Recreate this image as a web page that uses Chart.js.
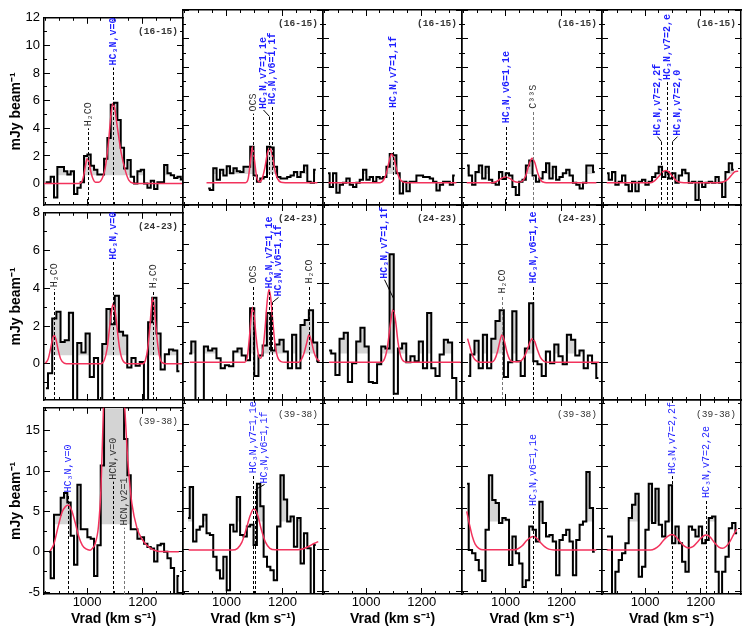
<!DOCTYPE html>
<html>
<head>
<meta charset="utf-8">
<script src="https://cdn.jsdelivr.net/npm/chart.js@4.4.1/dist/chart.umd.min.js"></script>
<style>
  body { margin: 0; background: #fff; }
  #fig { position: relative; width: 747px; height: 634px; overflow: hidden; }
  #fig canvas { position: absolute; }
</style>
</head>
<body>
<div id="fig"></div>
<script>
// channel velocities (km/s)
const velA = [851, 863, 875, 887, 899, 911, 923, 935, 947, 959, 971, 983, 995, 1007, 1019, 1031, 1043, 1055, 1067, 1079, 1091,
  1103, 1115, 1127, 1139, 1151, 1163, 1175, 1187, 1199, 1211, 1223, 1235, 1247, 1259, 1271, 1283, 1295, 1307, 1319, 1331, 1343]
const velB = [852, 867, 882, 897, 912, 927, 942, 957, 972, 987, 1002, 1017, 1032, 1047, 1062, 1077, 1092, 1107, 1122, 1137,
  1152, 1167, 1182, 1197, 1212, 1227, 1242, 1257, 1272, 1287, 1302, 1317, 1332]

// axis ticks
const xMajor = [1000, 1200]
const xMinor = [850, 900, 950, 1000, 1050, 1100, 1150, 1200, 1250, 1300]
const yMajor = [[0, 2, 4, 6, 8, 10, 12], [0, 2, 4, 6, 8], [-5, 0, 5, 10, 15]]
const yMinor = [[-1, 0, 1, 2, 3, 4, 5, 6, 7, 8, 9, 10, 11, 12], [-1, 0, 1, 2, 3, 4, 5, 6, 7, 8], [-5, -2.5, 0, 2.5, 5, 7.5, 10, 12.5, 15, 17.5]]
const yLow = [-1.55, -1.92, -5.24]
const yHigh = [12, 8, 17.86]
const fillLevel = [0.6, 0.45, 3.4]

// HC3N (16-15) spectra, mJy/beam on velA
const s16_1 = [0.1, 0.1, 0.5, -1.0, 1.2, 1.2, 0.9, 0.65, 0.9, -0.75, -0.3, 0.1, 2.0, 2.1, 1.3, 1.0, 0.65, 0.65, 1.8, 3.3, 5.7,
  5.85, 4.6, 2.6, 1.1, 1.7, 0.5, 0.0, 0.9, 1.0, 0.0, -0.3, 0.2, -0.4, 0.1, 0.1, 1.35, 0.75, 0.6, 0.4, 0.5, 0.3]
const s16_2 = [null, null, null, null, null, null, null, -0.4, -0.5, 1.0, 0.2, 0.9, 0.5, 1.15, 0.65, 1.0, 0.8, 0.75, 1.1, 1.1, 2.5,
  0.5, 0.07, 0.3, 0.4, 2.5, 2.45, 1.1, 0.4, 0.3, 0.3, 0.4, 0.5, 0.75, 0.4, 0.75, 1.2, 0.07, 0.0, 0.9, null, null]
const s16_3 = [null, 0.65, -0.3, 0.65, -0.7, -0.15, 0.0, 0.3, -0.15, -0.3, 0.0, 0.2, 0.9, 0.2, 0.4, 0.07, 0.4, 0.3, 0.4, 1.1, 2.0,
  1.9, 0.65, -0.75, 0.07, -0.6, 0.07, 0.07, 0.5, 0.5, 0.4, 0.4, 0.3, 0.07, -0.55, -0.15, 0.07, 0.07, -0.15, 0.5, null, null]
const s16_4 = [null, 1.2, 0.5, -0.15, 0.75, 1.2, 0.3, 1.1, 0.2, 0.0, -0.15, 0.75, 0.25, 0.65, 0.5, -0.3, -0.85, 0.07, 0.2, 1.2, 1.55,
  0.5, 0.07, 0.3, 0.75, 1.35, 0.3, 1.1, 0.2, 0.4, 0.65, 0.9, 0.5, 0.0, -0.15, -0.4, 0.0, 1.2, 1.2, 0.75, null, null]
const s16_5 = [null, 0.65, 0.2, 0.75, -0.15, 0.07, 0.5, -0.15, -0.6, 0.07, -0.6, 0.07, 0.2, -0.15, 0.07, 0.4, 0.65, 1.1, 0.4, 0.75, 0.3,
  0.65, 0.0, 0.5, 0.9, 0.65, 0.0, 0.07, -1.2, 0.07, -0.3, 0.0, 0.07, 0.0, 0.4, 0.0, -1.0, 0.75, 1.35, 0.9, null, null]

// HC3N (24-23) spectra on velB
const s24_1 = [-1.3, -0.5, 2.4, 2.75, 1.15, 1.25, 2.7, -2.2, 1.1, 0.6, 1.6, -0.7, 0.3, -2.2, 1.05, 2.9, 2.1, 3.6, 1.7, 1.5, -0.2,
  0.3, -0.1, 0.1, -2.2, 2.2, 3.5, 1.6, -0.3, 0.5, 0.75, 0.7, -0.4]
const s24_2 = [null, 0.45, 1.05, -2.2, -2.2, 0.8, 0.6, 0.7, 0.2, -0.3, -0.15, -0.2, 0.55, 0.7, 0.35, 0.1, 2.75, -0.7, 0.35, 0.85, 2.5,
  0.6, 0.9, 1.15, 0.55, -0.3, 1.4, -0.3, 1.9, 2.15, 2.65, 1.0, 0.05]
const s24_3 = [null, 0.6, 0.45, -0.65, 1.2, 1.5, -1.0, -0.05, 1.05, 1.75, 0.8, -1.0, -1.05, -0.1, 0.8, 0.7, 5.5, -1.6, 0.7, 0.95, 0.0,
  0.3, 0.05, 1.05, -0.3, 2.5, -0.3, -0.7, 0.4, 1.15, 1.0, -0.8, -2.2]
const s24_4 = [null, -0.7, 0.4, 1.1, -0.3, 1.4, -0.3, 1.2, 2.1, 2.65, -0.75, 0.0, 2.6, 0.05, -0.7, 0.7, 3.0, 0.05, -0.1, -0.7, 0.55,
  -0.05, 0.9, 0.3, -0.1, 1.4, 1.15, 0.35, 0.6, -0.3, 0.35, -0.05, -0.8]

// HC3N (39-38) spectra on velA
const s39_1 = [null, 0.0, -3.3, 4.6, 4.6, 6.7, 7.3, 6.1, 2.0, -1.6, 8.3, 2.8, 2.8, 1.8, 1.6, -3.0, 0.8, 10.7, 25, 25, 25,
  25, 25, 25, 14, 9.5, 2.8, 2.8, 1.6, 1.8, 1.0, 0.6, 0.4, -1.2, 0.8, 1.0, 0.0, -0.8, -2.0, -5.5, -3.0, null]
const s39_2 = [null, 3.8, 7.5, 1.0, 2.4, 2.8, 4.2, 2.0, 1.8, -0.8, -2.4, -3.4, -0.8, -4.8, 3.0, 2.2, 6.3, 1.8, 1.6, 2.8, 3.0,
  0.6, 7.9, 5.2, -0.8, -2.0, -2.4, -3.6, 2.8, 8.9, 6.0, 3.4, 4.0, 0.4, 3.8, -1.6, 2.0, 0.2, -5.5, 0.6, null, null]
const s39_4 = [null, 7.9, 0.0, -0.4, -1.2, -2.4, -3.7, 2.4, 8.9, 5.95, 5.6, 3.2, 3.8, 3.6, -1.8, 1.6, -0.4, -1.6, -4.4, -3.6, 2.8,
  2.4, 1.0, 5.75, 3.2, 1.6, 1.8, 1.0, -3.0, 1.2, 1.8, 2.4, 1.0, -3.0, 1.2, 3.0, 3.4, 9.3, 5.0, -0.2, null, null]
const s39_5 = [null, 1.6, 1.6, -5.5, -2.6, -1.2, -0.4, 0.8, 3.8, 5.4, 6.7, -3.2, -2.0, 2.4, 7.9, 3.2, 7.3, 3.0, 1.6, 3.4, 7.7,
  0.8, 2.8, 0.8, -1.4, -2.6, 2.8, 2.4, 1.6, 2.8, 0.8, 1.2, 3.8, 4.0, -2.6, -5.5, -2.6, -0.8, 2.6, 3.2, 2.0, null]

// model fits: [velocity, mJy/beam]
const m16_1 = [[845, 0], [968, 0], [980, 0.1], [988, 0.6], [995, 1.4], [1000, 1.8], [1006, 1.6], [1012, 1.0], [1020, 0.4], [1030, 0.1],
  [1042, 0.1], [1055, 0.4], [1065, 1.1], [1077, 3.0], [1085, 4.8], [1092, 5.8], [1099, 5.5], [1107, 4.35], [1122, 2.3], [1138, 0.9],
  [1150, 0.25], [1165, 0.03], [1180, 0], [1345, 0]]
const m16_2 = [[929, 0], [1068, 0], [1078, 0.3], [1086, 1.5], [1093, 2.5], [1100, 1.6], [1108, 0.4], [1118, 0.05], [1128, 0.3],
  [1138, 1.1], [1147, 2.1], [1155, 2.4], [1163, 2.0], [1172, 1.0], [1182, 0.3], [1195, 0.03], [1210, 0], [1325, 0]]
const m16_3 = [[865, 0], [1050, 0], [1062, 0.15], [1072, 0.6], [1082, 1.4], [1091, 2.0], [1100, 1.7], [1110, 0.9], [1120, 0.3],
  [1132, 0.05], [1145, 0], [1325, 0]]
const m16_4 = [[862, 0], [955, 0], [970, 0.1], [985, 0.3], [1000, 0.4], [1015, 0.3], [1030, 0.1], [1045, 0.03], [1060, 0.1],
  [1073, 0.5], [1085, 1.3], [1095, 1.7], [1105, 1.4], [1115, 0.7], [1127, 0.15], [1140, 0.02], [1155, 0], [1325, 0]]
const m16_5 = [[862, 0], [1020, 0], [1035, 0.15], [1050, 0.45], [1063, 0.75], [1075, 0.85], [1088, 0.7], [1100, 0.4], [1112, 0.15],
  [1125, 0.03], [1140, 0], [1265, 0], [1280, 0.05], [1295, 0.2], [1310, 0.5], [1322, 0.75], [1335, 0.8]]
const m24_1 = [[850, 0.03], [860, 0.25], [870, 0.9], [876, 1.35], [882, 1.5], [888, 1.3], [895, 0.8], [905, 0.25], [918, 0.03], [935, 0],
  [1050, 0], [1062, 0.2], [1072, 0.8], [1080, 1.8], [1087, 2.7], [1094, 3.2], [1101, 2.8], [1108, 1.9], [1116, 0.9], [1126, 0.25],
  [1140, 0.02], [1155, 0], [1200, 0], [1210, 0.2], [1218, 0.8], [1226, 2.0], [1232, 3.1], [1236, 3.5], [1241, 3.1], [1248, 1.9],
  [1256, 0.8], [1264, 0.2], [1275, 0.03], [1290, 0], [1345, 0]]
const m24_2 = [[869, 0], [1065, 0], [1075, 0.3], [1083, 1.4], [1089, 2.4], [1094, 2.8], [1099, 2.4], [1106, 1.3], [1114, 0.4],
  [1122, 0.2], [1130, 0.6], [1138, 1.7], [1145, 3.0], [1152, 3.7], [1158, 3.3], [1165, 2.2], [1173, 1.0], [1182, 0.3], [1195, 0.03],
  [1210, 0], [1258, 0], [1268, 0.15], [1278, 0.5], [1287, 1.0], [1295, 1.4], [1303, 1.1], [1312, 0.55], [1322, 0.2], [1332, 0.05]]
const m24_3 = [[867, 0], [1055, 0], [1067, 0.2], [1077, 0.8], [1087, 1.9], [1097, 2.7], [1106, 2.1], [1115, 1.0], [1125, 0.3],
  [1137, 0.03], [1150, 0], [1340, 0]]
const m24_4 = [[865, 1.2], [872, 0.85], [880, 0.45], [890, 0.15], [902, 0.03], [920, 0], [950, 0], [962, 0.15], [972, 0.55],
  [980, 1.05], [988, 1.4], [996, 1.1], [1005, 0.55], [1015, 0.15], [1028, 0.02], [1045, 0.02], [1058, 0.1], [1070, 0.35], [1082, 0.8],
  [1090, 1.1], [1097, 1.2], [1105, 1.05], [1114, 0.65], [1125, 0.25], [1138, 0.05], [1155, 0], [1335, 0]]
const m39_1 = [[867, 0.1], [880, 0.9], [895, 3.0], [910, 4.9], [922, 5.6], [933, 5.8], [945, 5.1], [958, 3.5], [970, 1.9], [983, 0.8],
  [996, 0.35], [1011, 0.2], [1020, 0.45], [1029, 1.0], [1041, 3.2], [1050, 7.9], [1059, 18], [1070, 28], [1090, 34], [1110, 30],
  [1125, 23], [1137, 17], [1145, 12], [1152, 9], [1161, 6], [1179, 3.0], [1197, 1.6], [1215, 0.8], [1235, 0.3], [1251, 0.1],
  [1270, 0.02], [1330, 0]]
const m39_2 = [[865, 0], [1020, 0], [1040, 0.2], [1055, 0.9], [1070, 2.4], [1085, 4.1], [1098, 4.9], [1112, 4.1], [1125, 2.4],
  [1140, 0.9], [1155, 0.2], [1175, 0.02], [1255, 0.02], [1275, 0.15], [1295, 0.45], [1315, 0.8], [1328, 1.0]]
const m39_4 = [[862, 4.6], [872, 3.0], [882, 1.6], [892, 0.7], [905, 0.2], [920, 0.02], [1030, 0.02], [1045, 0.15], [1060, 0.5],
  [1075, 1.1], [1090, 1.5], [1100, 1.6], [1112, 1.4], [1125, 0.9], [1140, 0.4], [1155, 0.1], [1175, 0.01], [1325, 0]]
const m39_5 = [[862, 0], [1020, 0], [1035, 0.15], [1050, 0.5], [1065, 1.1], [1080, 1.6], [1097, 1.85], [1110, 1.6], [1125, 1.0],
  [1140, 0.5], [1157, 0.25], [1172, 0.4], [1187, 0.9], [1202, 1.45], [1214, 1.75], [1222, 1.8], [1235, 1.5], [1250, 0.85],
  [1265, 0.35], [1278, 0.2], [1292, 0.45], [1305, 1.0], [1318, 1.8], [1330, 2.5]]

// identified lines: [velocity, label]
const L16_1 = [[1004, "H₂CO"], [1094, "HC₃N,v=0"]]
const L16_2 = [[1095, "OCS"], [1152, "HC₃N,v7=1,1e"], [1163, "HC₃N,v6=1,1f"]]
const L16_3 = [[1097, "HC₃N,v7=1,1f"]]
const L16_4 = [[1003, "HC₃N,v6=1,1e"], [1097, "C³³S"]]
const L16_5 = [[1056, "HC₃N,v7=2,2f"], [1080, "HC₃N,v7=2,e"], [1095, "HC₃N,v7=2,0"]]
const L24_1 = [[882, "H₂CO"], [1094, "HC₃N,v=0"], [1236, "H₂CO"]]
const L24_2 = [[1095, "OCS"], [1152, "HC₃N,v7=1,1e"], [1163, "HC₃N,v6=1,1f"], [1295, "H₂CO"]]
const L24_3 = [[1097, "HC₃N,v7=1,1f"]]
const L24_4 = [[988, "H₂CO"], [1097, "HC₃N,v6=1,1e"]]
const L39_1 = [[930, "HC₃N,v=0"], [1094, "HCN,v=0"], [1133, "HCN,v2=1"]]
const L39_2 = [[1095, "HC₃N,v7=1,1e"], [1101, "HC₃N,v6=1,1f"]]
const L39_4 = [[1097, "HC₃N,v6=1,1e"]]
const L39_5 = [[1098, "HC₃N,v7=2,2f"], [1218, "HC₃N,v7=2,2e"]]

// where each label sits (dash top y, text start ty, sideways shift dx in px)
const P16_1 = [{ y: 4.0 }, { y: 8.4 }]
const P16_2 = [{ y: 4.8 }, { y: 4.6, ty: 5.05, dx: -6 }, { y: 5.3 }]
const P16_3 = [{ y: 5.05 }]
const P16_4 = [{ y: 4.0 }, { y: 5.0, grey: true }]
const P16_5 = [{ y: 2.85, ty: 3.2, dx: -4 }, { y: 7.0 }, { y: 2.85, ty: 3.2, dx: 5 }]
const P24_1 = [{ y: 3.95 }, { y: 5.4 }, { y: 3.9 }]
const P24_2 = [{ y: 3.9 }, { y: 3.65 }, { y: 3.05, ty: 3.3, dx: 6 }, { y: 3.9 }]
const P24_3 = [{ y: 3.25, ty: 4.2, dx: -9 }]
const P24_4 = [{ y: 3.4, grey: true }, { y: 3.9 }]
const P39_1 = [{ y: 7.1 }, { y: 8.7 }, { y: 3.0, grey: true }]
const P39_2 = [{ y: 8.9 }, { y: 7.2, ty: 7.8, dx: 9 }]
const P39_4 = [{ y: 5.0 }]
const P39_5 = [{ y: 8.8 }, { y: 5.95 }]

const panels = [
  { row: 0, col: 0, vel: velA, spec: s16_1, fit: m16_1, lines: L16_1, place: P16_1, tag: "(16-15)" },
  { row: 0, col: 1, vel: velA, spec: s16_2, fit: m16_2, lines: L16_2, place: P16_2, tag: "(16-15)" },
  { row: 0, col: 2, vel: velA, spec: s16_3, fit: m16_3, lines: L16_3, place: P16_3, tag: "(16-15)" },
  { row: 0, col: 3, vel: velA, spec: s16_4, fit: m16_4, lines: L16_4, place: P16_4, tag: "(16-15)" },
  { row: 0, col: 4, vel: velA, spec: s16_5, fit: m16_5, lines: L16_5, place: P16_5, tag: "(16-15)" },
  { row: 1, col: 0, vel: velB, spec: s24_1, fit: m24_1, lines: L24_1, place: P24_1, tag: "(24-23)" },
  { row: 1, col: 1, vel: velB, spec: s24_2, fit: m24_2, lines: L24_2, place: P24_2, tag: "(24-23)" },
  { row: 1, col: 2, vel: velB, spec: s24_3, fit: m24_3, lines: L24_3, place: P24_3, tag: "(24-23)" },
  { row: 1, col: 3, vel: velB, spec: s24_4, fit: m24_4, lines: L24_4, place: P24_4, tag: "(24-23)" },
  { row: 1, col: 4 },
  { row: 2, col: 0, vel: velA, spec: s39_1, fit: m39_1, lines: L39_1, place: P39_1, tag: "(39-38)" },
  { row: 2, col: 1, vel: velA, spec: s39_2, fit: m39_2, lines: L39_2, place: P39_2, tag: "(39-38)" },
  { row: 2, col: 2 },
  { row: 2, col: 3, vel: velA, spec: s39_4, fit: m39_4, lines: L39_4, place: P39_4, tag: "(39-38)" },
  { row: 2, col: 4, vel: velA, spec: s39_5, fit: m39_5, lines: L39_5, place: P39_5, tag: "(39-38)" },
]

// panel frame edges in the page
const colEdges = [44, 183, 323, 462, 602, 741]
const rowEdges = [10, 205, 400, 594]
const SANS = '"Liberation Sans", Arial, sans-serif'
const MONO = '"Liberation Mono", "DejaVu Sans Mono", monospace'

Chart.defaults.font.family = SANS
Chart.defaults.color = "#000"

// dashed line markers, rotated labels and the transition tag
const markPlugin = {
  id: "marks",
  afterDatasetsDraw(chart, args, o) {
    const { ctx, chartArea: a } = chart
    const xs = chart.scales.x, ys = chart.scales.y
    ctx.save()
    ;(o.lines || []).forEach(([v, text], i) => {
      const p = o.place[i]
      const px = Math.round(xs.getPixelForValue(v)) + 0.5
      const top = ys.getPixelForValue(p.y)
      ctx.strokeStyle = p.grey ? "#777" : "#000"
      ctx.lineWidth = 1
      ctx.setLineDash([3, 2])
      ctx.beginPath()
      ctx.moveTo(px, a.bottom)
      ctx.lineTo(px, top)
      ctx.stroke()
      ctx.setLineDash([])
      let tx = px, ty = top - 2
      if (p.dx) {
        tx = px + p.dx
        ty = ys.getPixelForValue(p.ty)
        ctx.strokeStyle = "#000"
        ctx.beginPath()
        ctx.moveTo(px, top)
        ctx.lineTo(tx, ty)
        ctx.stroke()
        ty -= 1
      }
      const blue = text.startsWith("HC₃N")
      ctx.save()
      ctx.translate(tx, ty)
      ctx.rotate(-Math.PI / 2)
      ctx.fillStyle = blue ? "#1f1fff" : "#333"
      ctx.font = (blue && o.bold ? "bold " : "") + "10px " + MONO
      ctx.textAlign = "left"
      ctx.textBaseline = "middle"
      ctx.fillText(text, 0, 0)
      ctx.restore()
    })
    if (o.tag) {
      ctx.fillStyle = "#333"
      ctx.font = (o.bold ? "bold " : "") + "9.5px " + MONO
      ctx.textAlign = "right"
      ctx.textBaseline = "middle"
      ctx.fillText(o.tag, a.right - 5, a.top + 14)
    }
    ctx.restore()
  },
}
Chart.register(markPlugin)

function scalesFor(row, col) {
  const onBottom = row === 2, onLeft = col === 0
  const grid = len => ({ drawOnChartArea: false, drawTicks: true, tickLength: len, color: "#000", lineWidth: 1 })
  const frame = { display: true, color: "#000", width: 1.5 }
  const hidden = { display: false }
  const useTicks = list => s => { s.ticks = list.map(v => ({ value: v })) }
  const xr = { type: "linear", min: 845, max: 1345 }
  const yr = { type: "linear", min: yLow[row], max: yHigh[row] }
  return {
    xm: { ...xr, position: "bottom", weight: -1, afterBuildTicks: useTicks(xMinor), afterFit: s => { s.height = 0 }, grid: grid(-3), border: hidden, ticks: { display: false } },
    x: {
      ...xr, position: "bottom", afterBuildTicks: useTicks(xMajor), afterFit: s => { s.height = 40 },
      grid: grid(-6), border: frame,
      ticks: { display: onBottom, padding: 7, maxRotation: 0, autoSkip: false, font: { size: 13 }, color: "#000", callback: v => v },
      title: { display: onBottom, text: "Vrad (km s⁻¹)", font: { size: 14, weight: "bold" }, color: "#000", padding: { top: 0, bottom: 6 } },
    },
    xtm: { ...xr, position: "top", weight: -1, afterBuildTicks: useTicks(xMinor), afterFit: s => { s.height = 0 }, grid: grid(-3), border: hidden, ticks: { display: false } },
    xt: { ...xr, position: "top", afterBuildTicks: useTicks(xMajor), afterFit: s => { s.height = 0 }, grid: grid(-6), border: frame, ticks: { display: false } },
    ym: { ...yr, position: "left", weight: -1, afterBuildTicks: useTicks(yMinor[row]), afterFit: s => { s.width = 0 }, grid: grid(-3), border: hidden, ticks: { display: false } },
    y: {
      ...yr, position: "left", afterBuildTicks: useTicks(yMajor[row]), afterFit: s => { s.width = 44 },
      grid: grid(-6), border: frame,
      ticks: { display: onLeft, padding: 10, autoSkip: false, font: { size: 13 }, color: "#000", callback: v => v },
      title: { display: onLeft, text: "mJy beam⁻¹", font: { size: 14, weight: "bold" }, color: "#000", padding: { top: 8, bottom: 0 } },
    },
    yrm: { ...yr, position: "right", weight: -1, afterBuildTicks: useTicks(yMinor[row]), afterFit: s => { s.width = 0 }, grid: grid(-3), border: hidden, ticks: { display: false } },
    yr: { ...yr, position: "right", afterBuildTicks: useTicks(yMajor[row]), afterFit: s => { s.width = 0 }, grid: grid(-6), border: frame, ticks: { display: false } },
  }
}

const fig = document.getElementById("fig")
panels.forEach(p => {
  const left = colEdges[p.col], top = rowEdges[p.row]
  const w = colEdges[p.col + 1] - left, h = rowEdges[p.row + 1] - top
  const canvas = document.createElement("canvas")
  canvas.width = w + 52
  canvas.height = h + 50
  canvas.style.left = (left - 44) + "px"
  canvas.style.top = (top - 10) + "px"
  fig.appendChild(canvas)

  const datasets = []
  if (p.spec) {
    const lvl = fillLevel[p.row]
    // red model on top, black spectrum, grey shading (above the level) underneath
    datasets.push({
      data: p.fit.map(([v, f]) => ({ x: v, y: f })),
      borderColor: "#f2325c",
      borderWidth: 1.5,
      pointRadius: 0,
      cubicInterpolationMode: "monotone",
      fill: false,
    })
    datasets.push({
      data: p.vel.map((v, i) => ({ x: v, y: p.spec[i] })),
      stepped: "middle",
      borderColor: "#000",
      borderWidth: 2,
      pointRadius: 0,
      spanGaps: false,
      fill: false,
    })
    datasets.push({
      data: p.vel.map((v, i) => ({ x: v, y: p.spec[i] === null ? null : Math.max(p.spec[i], lvl) })),
      stepped: "middle",
      borderWidth: 0,
      borderColor: "rgba(0,0,0,0)",
      backgroundColor: "#d4d4d4",
      pointRadius: 0,
      spanGaps: false,
      fill: { value: lvl },
    })
  }

  new Chart(canvas, {
    type: "line",
    data: { datasets },
    options: {
      responsive: false,
      animation: false,
      events: [],
      layout: { autoPadding: false, padding: { left: 0, top: 10, right: 8, bottom: 0 } },
      scales: scalesFor(p.row, p.col),
      plugins: {
        legend: { display: false },
        tooltip: { enabled: false },
        marks: { lines: p.lines || [], place: p.place || [], tag: p.tag, bold: p.row < 2 },
      },
    },
  })
})
</script>
</body>
</html>
